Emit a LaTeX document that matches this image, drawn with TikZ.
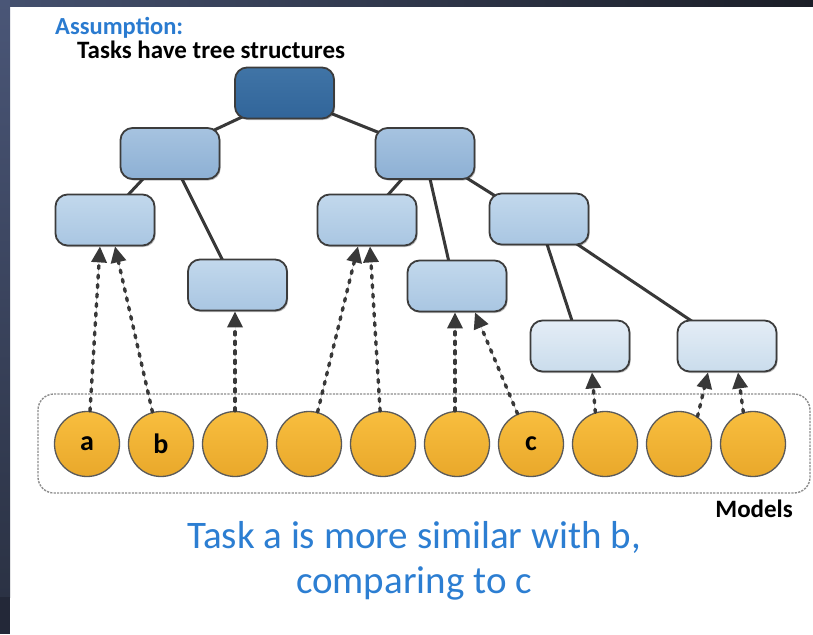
\documentclass[tikz,border=0pt]{standalone}
\usepackage{fontspec}
\setmainfont{Carlito}
\usetikzlibrary{arrows.meta,shadows,backgrounds}
\definecolor{edgecol}{HTML}{383838}
\definecolor{bordercol}{HTML}{3C3C3C}
\definecolor{txtblue}{HTML}{2C7ED2}
\definecolor{headblue}{HTML}{2A7BD0}
\definecolor{rootT}{HTML}{4074A6}
\definecolor{rootB}{HTML}{31659A}
\definecolor{twoT}{HTML}{A6C3E0}
\definecolor{twoB}{HTML}{8DB0D4}
\definecolor{thrT}{HTML}{C2D8EC}
\definecolor{thrB}{HTML}{A9C6E2}
\definecolor{fivT}{HTML}{E4EDF6}
\definecolor{fivB}{HTML}{CADCEC}
\definecolor{orT}{HTML}{F8BE3E}
\definecolor{orB}{HTML}{E9A82B}
\definecolor{circB}{HTML}{5A5A5A}
\definecolor{boxgray}{HTML}{8C8C8C}
\definecolor{frTL}{HTML}{44506E}
\definecolor{frTR}{HTML}{1B1E27}
\definecolor{frLT}{HTML}{4A5677}
\definecolor{frLB}{HTML}{2B3244}
\definecolor{frLD}{HTML}{232838}
\begin{document}
\begin{tikzpicture}[x=1pt,y=-1pt,
  tbox/.style={rectangle, rounded corners=12pt, minimum width=99pt, minimum height=51pt,
    inner sep=0pt, draw=bordercol, line width=1.8pt,
    drop shadow={shadow xshift=1.2pt, shadow yshift=-1.5pt, opacity=0.25, fill=black}},
  lvroot/.style={tbox, top color=rootT, bottom color=rootB},
  lvtwo/.style={tbox, top color=twoT, bottom color=twoB},
  lvthree/.style={tbox, top color=thrT, bottom color=thrB},
  lvfive/.style={tbox, top color=fivT, bottom color=fivB},
  model/.style={circle, minimum size=65pt, inner sep=0pt, draw=circB, line width=1.3pt,
    top color=orT, bottom color=orB, font=\bfseries\fontsize{28}{28}\selectfont},
  treeedge/.style={draw=edgecol, line width=3pt},
  uparrow/.style={draw=edgecol, line width=3.4pt, line cap=round, dash pattern=on 3pt off 6.5pt,
    -{Triangle[length=16pt,width=15pt,line cap=butt,sep=0pt]}, fill=edgecol},
]
\useasboundingbox (0,0) rectangle (813,634);

% tree nodes
\node[lvroot]  (root) at (284.5,93) {};
\node[lvtwo]   (LL)   at (170,153.5) {};
\node[lvtwo]   (LR)   at (425,153.5) {};
\node[lvthree] (A)    at (105,220) {};
\node[lvthree] (B)    at (367,220) {};
\node[lvthree] (C)    at (539,219) {};
\node[lvthree] (D)    at (237.5,285) {};
\node[lvthree] (E)    at (457,286) {};
\node[lvfive]  (F)    at (580,346) {};
\node[lvfive]  (G)    at (727,346) {};

% model box
\node[draw=boxgray, line width=1.4pt, dash pattern=on 2.2pt off 1.2pt, rounded corners=16pt,
  minimum width=772pt, minimum height=99pt, inner sep=0pt] (box) at (424,443.5) {};

% models
\node[model] (m1)  at (87,444)  {a};
\node[model] (m2)  at (161,444) {b};
\node[model] (m3)  at (235,444) {};
\node[model] (m4)  at (309,444) {};
\node[model] (m5)  at (383,444) {};
\node[model] (m6)  at (457,444) {};
\node[model] (m7)  at (531,444) {c};
\node[model] (m8)  at (605,444) {};
\node[model] (m9)  at (679,444) {};
\node[model] (m10) at (753,444) {};

% texts
\node[anchor=base west, text=headblue, font=\bfseries\fontsize{24.5}{25}\selectfont, inner sep=0pt] (hd1) at (55,35) {Assumption:};
\node[anchor=base west, font=\bfseries\fontsize{25}{25}\selectfont, inner sep=0pt] (hd2) at (77,59) {Tasks have tree structures};
\node[anchor=base east, font=\bfseries\fontsize{25}{25}\selectfont, inner sep=0pt] (mlab) at (793,517) {Models};
\node[anchor=base, text=txtblue, font=\fontsize{39}{39}\selectfont, inner sep=0pt] (cap1) at (414,548) {Task a is more similar with b,};
\node[anchor=base, text=txtblue, font=\fontsize{39}{39}\selectfont, inner sep=0pt] (cap2) at (414,593) {comparing to c};

% arrows
\draw[uparrow] ([xshift=3pt]m1.north) -- ([xshift=-5pt]A.south);
\draw[uparrow] (m2.105) -- ([xshift=10pt]A.south);
\draw[uparrow] (m3.north) -- ([xshift=-2.5pt]D.south);
\draw[uparrow] (m4.75) -- ([xshift=-9pt]B.south);
\draw[uparrow] (m5.95) -- ([xshift=3pt]B.south);
\draw[uparrow] ([xshift=-2pt]m6.north) -- ([xshift=-2pt]E.south);
\draw[uparrow] (m7.114) -- ([xshift=18pt]E.south);
\draw[uparrow] (m8.107) -- ([xshift=12pt]F.south);
\draw[uparrow] (m9.56) -- ([xshift=-19pt]G.south);
\draw[uparrow] (m10.107) -- ([xshift=11pt]G.south);

\begin{pgfonlayer}{background}
  \fill[white] (0,0) rectangle (813,634);
  \shade[left color=frTL, right color=frTR] (0,0) rectangle (813,7);
  \shade[top color=frLT, bottom color=frLB] (0,0) rectangle (10,597);
  \fill[frLD] (0,597) rectangle (10,634);
  % tree edges
  \draw[treeedge] ([shift={(-27.5,17)}]root.center) -- ([shift={(23,-13.5)}]LL.center);
  \draw[treeedge] ([shift={(35.5,16)}]root.center) -- ([shift={(-30,-14.5)}]LR.center);
  \draw[treeedge] ([shift={(-18.6,16.5)}]LL.center) -- ([shift={(13.6,-15)}]A.center);
  \draw[treeedge] ([shift={(7.5,16.5)}]LL.center) -- ([shift={(-10,-15)}]D.center);
  \draw[treeedge] ([shift={(-15,16.5)}]LR.center) -- ([shift={(12,-15)}]B.center);
  \draw[treeedge] ([shift={(3,16.5)}]LR.center) -- ([shift={(-6,-15)}]E.center);
  \draw[treeedge] ([shift={(29,16.5)}]LR.center) -- ([shift={(-31,-15)}]C.center);
  \draw[treeedge] ([shift={(5,16)}]C.center) -- ([shift={(-5,-16)}]F.center);
  \draw[treeedge] ([shift={(26,17)}]C.center) -- ([shift={(-22,-16)}]G.center);
\end{pgfonlayer}
\end{tikzpicture}
\end{document}
